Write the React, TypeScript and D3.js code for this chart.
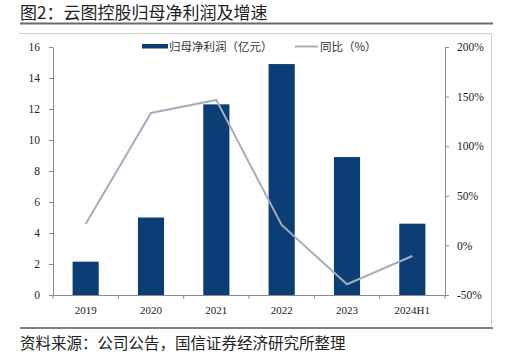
import React, { useEffect, useRef } from "react";
import * as d3 from "d3";

const years = ["2019", "2020", "2021", "2022", "2023", "2024H1"];
const netProfit = [2.15, 5.0, 12.3, 14.9, 8.9, 4.6]; // 亿元
const growthPct = [21.6, 133.5, 146.6, 20.6, -39.2, -10.7]; // %
const leftTicks = [0, 2, 4, 6, 8, 10, 12, 14, 16];
const rightTicks = [-50, 0, 50, 100, 150, 200];

const title = "图2：云图控股归母净利润及增速";
const source = "资料来源：公司公告，国信证券经济研究所整理";
const legendBar = "归母净利润（亿元）";
const legendLine = "同比（%）";

const W = 514;
const H = 354;

const App = () => {
  const svgRef = useRef<SVGSVGElement>(null);

  useEffect(() => {
    const svg = d3.select(svgRef.current);
    svg.selectAll("*").remove();

    const cjk = "'Noto Sans CJK SC', 'Noto Sans', sans-serif";
    const serif = "'Liberation Serif', 'DejaVu Serif', serif";
    const axisColor = "#8a8a8a";
    const barColor = "#0b3e74";
    const lineColor = "#a3afbd";

    // plot area
    const left = 53, right = 445, top = 47, bottom = 295;

    const x = d3.scaleBand().domain(years).range([left, right]).paddingInner(0.6).paddingOuter(0.3);
    const yL = d3.scaleLinear().domain([0, 16]).range([bottom, top]);
    const yR = d3.scaleLinear().domain([-50, 200]).range([bottom, top]);

    // header and frame
    svg.append("text")
      .attr("x", 20).attr("y", 19)
      .attr("font-family", cjk).attr("font-size", 17).attr("fill", "#222")
      .text(title);
    svg.append("line").attr("x1", 20).attr("x2", 493).attr("y1", 23.5).attr("y2", 23.5)
      .attr("stroke", "#6a6a6a").attr("stroke-width", 2);
    svg.append("line").attr("x1", 19).attr("x2", 491.5).attr("y1", 33.5).attr("y2", 33.5)
      .attr("stroke", "#cfcfcf").attr("stroke-width", 1);
    svg.append("line").attr("x1", 491.5).attr("x2", 491.5).attr("y1", 33.5).attr("y2", 326)
      .attr("stroke", "#cfcfcf").attr("stroke-width", 1);
    svg.append("line").attr("x1", 20).attr("x2", 493).attr("y1", 328).attr("y2", 328)
      .attr("stroke", "#555").attr("stroke-width", 1.5);
    svg.append("text")
      .attr("x", 20).attr("y", 349)
      .attr("font-family", cjk).attr("font-size", 15.5).attr("fill", "#222")
      .text(source);

    // bars
    svg.append("g").selectAll("rect")
      .data(years)
      .enter().append("rect")
      .attr("x", (d) => x(d)!)
      .attr("width", x.bandwidth())
      .attr("y", (d, i) => yL(netProfit[i]))
      .attr("height", (d, i) => yL(0) - yL(netProfit[i]))
      .attr("fill", barColor);

    // growth line
    const line = d3.line<number>()
      .x((d, i) => x(years[i])! + x.bandwidth() / 2)
      .y((d) => yR(d));
    svg.append("path")
      .datum(growthPct)
      .attr("fill", "none")
      .attr("stroke", lineColor)
      .attr("stroke-width", 2)
      .attr("d", line);

    // left axis
    const gl = svg.append("g").attr("transform", `translate(${left},0)`)
      .call(d3.axisLeft(yL).tickValues(leftTicks).tickSize(4).tickPadding(9).tickSizeOuter(0));
    gl.selectAll("path, line").attr("stroke", axisColor);
    gl.selectAll("text").attr("font-family", serif).attr("font-size", 11.5).attr("fill", "#222");

    // right axis
    const gr = svg.append("g").attr("transform", `translate(${right},0)`)
      .call(d3.axisRight(yR).tickValues(rightTicks).tickSize(4).tickPadding(8).tickSizeOuter(0)
        .tickFormat((d) => `${d}%`));
    gr.selectAll("path, line").attr("stroke", axisColor);
    gr.selectAll("text").attr("font-family", serif).attr("font-size", 11.5).attr("fill", "#222");

    // x axis: labels centred in bands, ticks between categories
    const gx = svg.append("g").attr("transform", `translate(0,${bottom})`)
      .call(d3.axisBottom(x).tickSize(0).tickPadding(11).tickSizeOuter(0));
    gx.select(".domain").attr("stroke", axisColor);
    gx.selectAll("text").attr("font-family", serif).attr("font-size", 11).attr("fill", "#222");
    const half = (x.step() * x.paddingInner()) / 2;
    const bounds = years.map((d) => x(d)! - half).concat([x(years[years.length - 1])! + x.bandwidth() + half]);
    gx.append("g").selectAll("line")
      .data(bounds)
      .enter().append("line")
      .attr("x1", (d) => d).attr("x2", (d) => d)
      .attr("y1", 0).attr("y2", 4)
      .attr("stroke", axisColor);

    // legend
    const lg = svg.append("g").attr("font-family", cjk).attr("font-size", 11.5).attr("fill", "#333");
    lg.append("rect").attr("x", 142).attr("y", 44).attr("width", 26).attr("height", 4.5).attr("fill", barColor);
    lg.append("text").attr("x", 169).attr("y", 50.5).text(legendBar);
    lg.append("line").attr("x1", 295).attr("x2", 318).attr("y1", 46.5).attr("y2", 46.5)
      .attr("stroke", lineColor).attr("stroke-width", 2);
    lg.append("text").attr("x", 320).attr("y", 50.5).text(legendLine);
  }, []);

  return (
    <svg
      ref={svgRef}
      width={W}
      height={H}
      style={{ position: "absolute", left: 0, top: 0, background: "#fff" }}
    />
  );
};

export default App;
